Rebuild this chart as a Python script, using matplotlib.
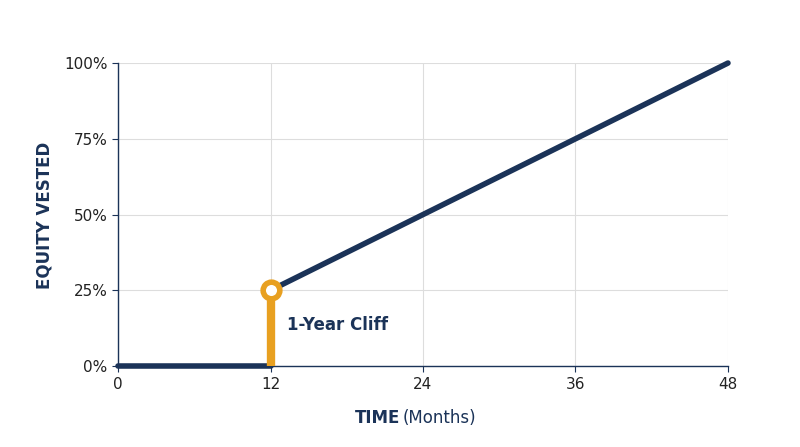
import matplotlib
matplotlib.use("Agg")
import matplotlib.pyplot as plt

pre_months = [0, 12]
pre_vested = [0, 0]
post_months = [12, 24, 36, 48]
post_vested = [25, 50, 75, 100]
cliff_month = 12
cliff_value = 25
xticks = [0, 12, 24, 36, 48]
yticks = [0, 25, 50, 75, 100]
ylabels = ["0%", "25%", "50%", "75%", "100%"]

navy = "#1b3358"
orange = "#e8a020"

fig = plt.figure(figsize=(8, 4.47), dpi=100)
ax = fig.add_axes([0.1475, 0.181, 0.7625, 0.678])
ax.set_xlim(0, 48)
ax.set_ylim(0, 100)
ax.set_xticks(xticks)
ax.set_yticks(yticks)
ax.set_yticklabels(ylabels)
ax.grid(True, color="#dddddd", lw=0.8)
ax.set_axisbelow(True)
for s in ["top", "right"]:
    ax.spines[s].set_visible(False)
for s in ["left", "bottom"]:
    ax.spines[s].set_color(navy)
    ax.spines[s].set_linewidth(1.0)
ax.tick_params(length=4, color=navy, labelsize=11, labelcolor="#222222")

ax.plot(pre_months, pre_vested, color=navy, lw=4, solid_capstyle="round", clip_on=False, zorder=3)
ax.plot(post_months, post_vested, color=navy, lw=4, solid_capstyle="round", clip_on=False, zorder=3)
ax.plot([cliff_month, cliff_month], [0, cliff_value], color=orange, lw=6, solid_capstyle="butt", zorder=4)
ax.plot([cliff_month], [cliff_value], marker="o", ms=12, mfc="white", mec=orange, mew=4, zorder=5)
ax.text(13.3, 13.5, "1-Year Cliff", color=navy, fontsize=12, fontweight="bold", va="center", ha="left")

fig.text(0.5, 1 - 418/447, "TIME", fontsize=12, fontweight="bold", color=navy, ha="right", va="center")
fig.text(0.503, 1 - 418/447, "(Months)", fontsize=12, color=navy, ha="left", va="center")
fig.text(0.056, 1 - 215/447, "EQUITY VESTED", fontsize=12, fontweight="bold", color=navy,
         rotation=90, ha="center", va="center")

fig.savefig("out.png", dpi=100, facecolor="white")
